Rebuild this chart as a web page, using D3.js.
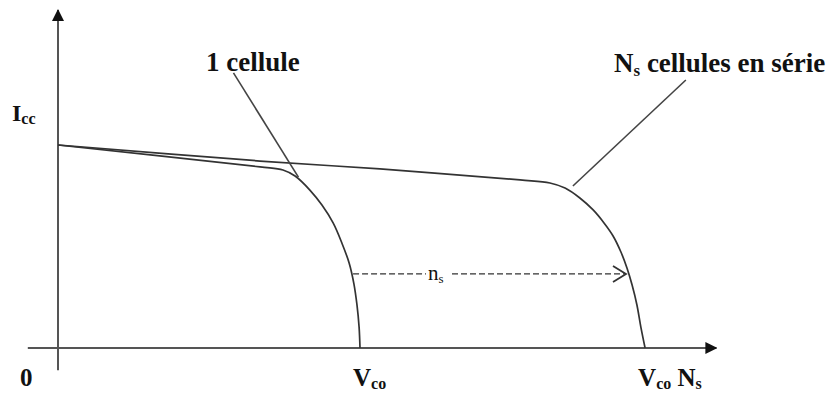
<!DOCTYPE html>
<html>
<head>
<meta charset="utf-8">
<script src="https://cdn.jsdelivr.net/npm/d3@7"></script>
<style>
  html, body { margin: 0; padding: 0; background: #fff; }
  svg { display: block; }
  text { font-family: "Liberation Serif", "Times New Roman", serif; fill: #111; }
</style>
</head>
<body>
<div id="chart"></div>
<script>
// tension en unités de Vco, courant en unités de Icc
const vOneCell = [0, 0.669, 0.745, 0.785, 0.834, 0.874, 0.911, 0.940, 0.964, 0.980, 0.990, 0.997, 1.0];
const iOneCell = [1.0, 0.892, 0.877, 0.847, 0.778, 0.704, 0.616, 0.517, 0.419, 0.315, 0.212, 0.103, 0];

const vSeries = [0, 0.669, 1.066, 1.530, 1.629, 1.679, 1.728, 1.772, 1.808, 1.838, 1.864, 1.884, 1.901, 1.917, 1.930, 1.944];
const iSeries = [1.0, 0.921, 0.882, 0.828, 0.813, 0.788, 0.739, 0.680, 0.616, 0.552, 0.473, 0.394, 0.310, 0.212, 0.103, 0];

const xTicks = [
  {v: 0, main: "0", sub: ""},
  {v: 1, main: "V", sub: "co"},
  {v: 1.944, main: "V", sub: "co", extra: "N", extraSub: "s"}
];

const wSvg = 832, hSvg = 394;

const svg = d3.select("#chart").append("svg")
  .attr("width", wSvg)
  .attr("height", hSvg);

const x = d3.scaleLinear().domain([0, 1]).range([58, 360]);
const y = d3.scaleLinear().domain([0, 1]).range([348, 145]);

const defs = svg.append("defs");
defs.append("marker")
  .attr("id", "axis-arrow")
  .attr("viewBox", "0 0 12 12")
  .attr("refX", 11).attr("refY", 6)
  .attr("markerWidth", 12).attr("markerHeight", 12)
  .attr("markerUnits", "userSpaceOnUse")
  .attr("orient", "auto")
  .append("path")
    .attr("d", "M0,0 L12,6 L0,12 Z")
    .attr("fill", "#111");

// axes
const axes = svg.append("g").attr("stroke", "#555").attr("stroke-width", 2);
axes.append("line")
  .attr("x1", x(0)).attr("y1", y(-0.11))
  .attr("x2", x(0)).attr("y2", y(1.665))
  .attr("marker-end", "url(#axis-arrow)");
axes.append("line")
  .attr("x1", x(-0.1)).attr("y1", y(0))
  .attr("x2", x(2.18)).attr("y2", y(0))
  .attr("marker-end", "url(#axis-arrow)");

// courbes I-V
const line = d3.line()
  .x(d => x(d[0]))
  .y(d => y(d[1]))
  .curve(d3.curveCatmullRom.alpha(0.5));

const curves = [d3.zip(vOneCell, iOneCell), d3.zip(vSeries, iSeries)];

svg.append("g").selectAll("path")
  .data(curves)
  .enter()
  .append("path")
    .attr("d", line)
    .attr("fill", "none")
    .attr("stroke", "#333")
    .attr("stroke-width", 1.7);

// lignes de rappel
const leaders = [
  [[0.581, 1.355], [0.796, 0.842]],
  [[2.079, 1.320], [1.705, 0.798]]
];
svg.append("g").selectAll("line")
  .data(leaders)
  .enter()
  .append("line")
    .attr("x1", d => x(d[0][0])).attr("y1", d => y(d[0][1]))
    .attr("x2", d => x(d[1][0])).attr("y2", d => y(d[1][1]))
    .attr("stroke", "#444")
    .attr("stroke-width", 1.6);

// labels
svg.append("text")
  .attr("x", 206).attr("y", 71)
  .attr("font-size", 27).attr("font-weight", "bold")
  .text("1 cellule");

const nsLabel = svg.append("text")
  .attr("x", 614).attr("y", 72)
  .attr("font-size", 27).attr("font-weight", "bold");
nsLabel.append("tspan").text("N");
nsLabel.append("tspan").attr("font-size", 17).attr("dy", 4).text("s");
nsLabel.append("tspan").attr("dy", -4).text(" cellules en série");

const icc = svg.append("text")
  .attr("x", 12).attr("y", 121)
  .attr("font-size", 24).attr("font-weight", "bold");
icc.append("tspan").text("I");
icc.append("tspan").attr("font-size", 16).attr("dy", 3).text("cc");

// étiquettes de l'axe x
const tickG = svg.append("g").selectAll("text")
  .data(xTicks)
  .enter()
  .append("text")
    .attr("x", d => d.v === 0 ? 20 : x(d.v) - 7)
    .attr("y", 386)
    .attr("font-size", 25)
    .attr("font-weight", "bold");
tickG.append("tspan").text(d => d.main);
tickG.append("tspan").attr("font-size", 16).attr("dy", 3).text(d => d.sub);
tickG.filter(d => d.extra).append("tspan").attr("dy", -3).text(d => " " + d.extra);
tickG.filter(d => d.extra).append("tspan").attr("font-size", 16).attr("dy", 3).text(d => d.extraSub);

// flèche ns
const yArrow = y(0.365);
const nsArrow = svg.append("g").attr("stroke", "#333").attr("stroke-width", 1.4);
nsArrow.append("line")
  .attr("x1", x(0.977)).attr("y1", yArrow)
  .attr("x2", 426).attr("y2", yArrow)
  .attr("stroke-dasharray", "6,3");
nsArrow.append("line")
  .attr("x1", 452).attr("y1", yArrow)
  .attr("x2", 625).attr("y2", yArrow)
  .attr("stroke-dasharray", "6,3");
nsArrow.append("path")
  .attr("d", `M613,${yArrow - 8} L626,${yArrow} L613,${yArrow + 8}`)
  .attr("fill", "none")
  .attr("stroke-width", 1.8);

const nsText = svg.append("text")
  .attr("x", 428).attr("y", yArrow + 6)
  .attr("font-size", 21);
nsText.append("tspan").text("n");
nsText.append("tspan").attr("font-size", 13).attr("dy", 3).text("s");
</script>
</body>
</html>
